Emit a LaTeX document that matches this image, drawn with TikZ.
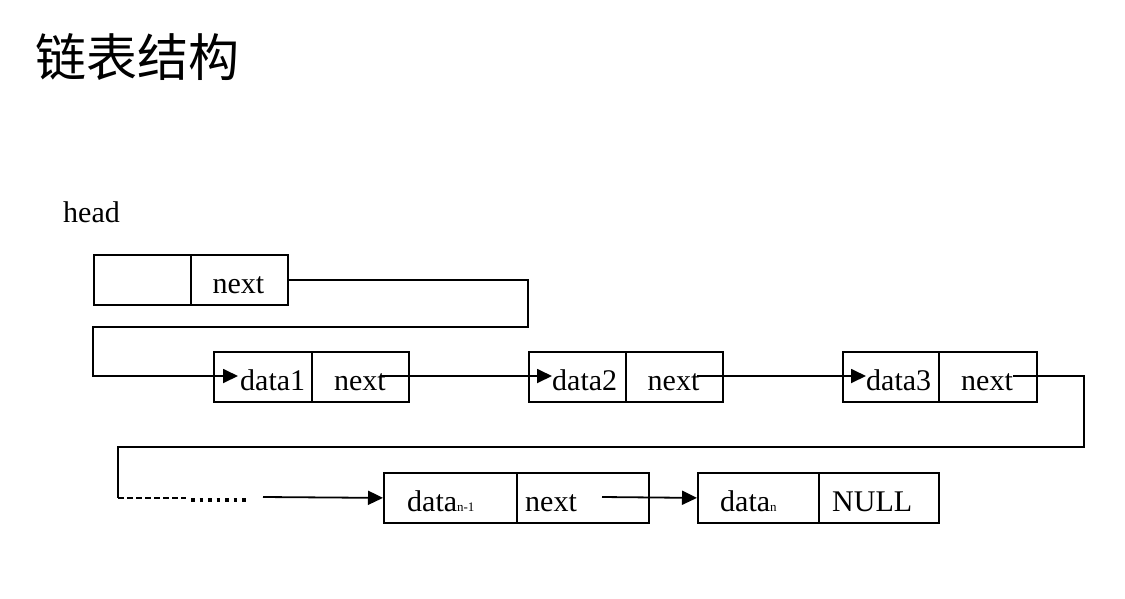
\documentclass[tikz,border=0pt]{standalone}
\usepackage{fontspec}
\setmainfont{Liberation Serif}
\newfontfamily\cjk{Noto Sans CJK SC}
\usetikzlibrary{arrows.meta}
\begin{document}
\begin{tikzpicture}[x=1pt,y=-1pt,
  cell/.style={draw=black, line width=1.8pt, minimum height=50pt, inner sep=0pt, anchor=north west},
  lbl/.style={font=\fontsize{30}{30}\selectfont, inner sep=0pt, text=black},
  conn/.style={draw=black, line width=1.8pt},
  arr/.style={conn, -{Triangle[length=15pt,width=14pt]}}]
\useasboundingbox[fill=white] (0,0) rectangle (1125,598);

\node[font=\cjk\fontsize{51}{51}\selectfont, anchor=west, inner sep=0pt] (title) at (35,57) {链表结构};

\node[lbl, anchor=base west] (headlbl) at (63,222) {head};

% head node
\node[cell, minimum width=97pt] (h1) at (93,254) {};
\node[cell, minimum width=97pt] (h2) at (190,254) {};
\node[lbl, anchor=base] (h2t) at (238.5,293) {next};

% data1
\node[cell, minimum width=98pt] (d1a) at (213,351) {};
\node[cell, minimum width=97pt] (d1b) at (311,351) {};
\node[lbl, anchor=base west] (d1at) at (240,390) {data1};
\node[lbl, anchor=base] (d1bt) at (360,390) {next};

% data2
\node[cell, minimum width=97pt] (d2a) at (528,351) {};
\node[cell, minimum width=97pt] (d2b) at (625,351) {};
\node[lbl, anchor=base west] (d2at) at (552,390) {data2};
\node[lbl, anchor=base] (d2bt) at (673.5,390) {next};

% data3
\node[cell, minimum width=96pt] (d3a) at (842,351) {};
\node[cell, minimum width=98pt] (d3b) at (938,351) {};
\node[lbl, anchor=base west] (d3at) at (866,390) {data3};
\node[lbl, anchor=base] (d3bt) at (987,390) {next};

% data n-1
\node[cell, minimum width=133pt] (n1a) at (383,472) {};
\node[cell, minimum width=132pt] (n1b) at (516,472) {};
\node[lbl, anchor=base west] (n1at) at (407,511) {data{\fontsize{13}{13}\selectfont n-1}};
\node[lbl, anchor=base west] (n1bt) at (525,511) {next};

% data n
\node[cell, minimum width=121pt] (n2a) at (697,472) {};
\node[cell, minimum width=120pt] (n2b) at (818,472) {};
\node[lbl, anchor=base west] (n2at) at (720,511) {data{\fontsize{13}{13}\selectfont n}};
\node[lbl, anchor=base west] (n2bt) at (832,511) {NULL};

% coordinates
\coordinate (c1) at (528,280);
\coordinate (c2) at (528,327);
\coordinate (c3) at (93,327);
\coordinate (c4) at (93,376);
\coordinate (t1) at (238,376);
\coordinate (s1) at (380,376);
\coordinate (t2) at (552,376);
\coordinate (s2) at (697,376);
\coordinate (t3) at (866,376);
\coordinate (s3) at (1013,376);
\coordinate (c5) at (1084,376);
\coordinate (c6) at (1084,447);
\coordinate (c7) at (118,447);
\coordinate (c8) at (118,498);
\coordinate (c9) at (186,498);
\coordinate (e1) at (191,500);
\coordinate (e2) at (246,500);
\coordinate (s4) at (263,497);
\coordinate (s5) at (602,497);

\draw[arr] (h2.east) -- (c1) -- (c2) -- (c3) -- (c4) -- (t1);
\draw[arr] (s1) -- (t2);
\draw[arr] (s2) -- (t3);
\draw[conn] (s3) -- (c5) -- (c6) -- (c7) -- (c8);
\draw[conn, line width=1.5pt, dash pattern=on 6pt off 3pt] (c8) -- (c9);
\draw[conn, line width=3.5pt, dash pattern=on 3.5pt off 5pt] (e1) -- (e2);
\draw[arr] (s4) -- (n1a.west);
\draw[arr] (s5) -- (n2a.west);
\end{tikzpicture}
\end{document}
